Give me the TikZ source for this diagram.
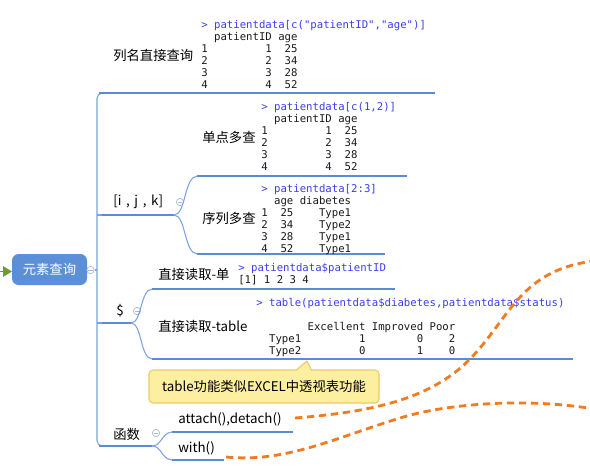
\documentclass[tikz,border=0pt]{standalone}
\usepackage{fontspec}
\newfontfamily\cjk{Noto Sans CJK SC}
\newfontfamily\codefont{DejaVu Sans Mono}
\usetikzlibrary{positioning}
\definecolor{rootblue}{HTML}{5B8FD8}
\definecolor{lineblue}{HTML}{5A8CD6}
\definecolor{curveblue}{HTML}{7AA3E0}
\definecolor{foldgray}{HTML}{A8B8D8}
\definecolor{cmdblue}{HTML}{3C3CF0}
\definecolor{notefill}{HTML}{FCEFA0}
\definecolor{notedraw}{HTML}{EFC86A}
\definecolor{relorange}{HTML}{F47A20}
\definecolor{markgreen}{HTML}{6F9A30}
\newcommand\cmdline[1]{\textcolor{cmdblue}{#1}}
\tikzset{
  topic/.style={anchor=west,inner sep=0pt,text=black,font=\cjk\fontsize{10}{12}\selectfont},
  codeblock/.style={anchor=base west,inner sep=0pt,text=black!90,font=\codefont\fontsize{8}{9}\selectfont},
  underline/.style={draw=lineblue,line width=1.8pt},
  branch/.style={draw=curveblue,line width=0.8pt},
  fold/.style={circle,draw=foldgray,fill=white,line width=0.5pt,minimum size=5.5pt,inner sep=0pt,
    path picture={\draw[foldgray,line width=0.5pt] ([xshift=1.1pt]path picture bounding box.west) -- ([xshift=-1.1pt]path picture bounding box.east);}},
  relation/.style={draw=relorange,line width=2.1pt,dash pattern=on 5.5pt off 3.5pt}
}
\begin{document}
\begin{tikzpicture}[x=0.75pt,y=-0.75pt]
    \useasboundingbox (0,0) rectangle (590,472);
    % root topic
    \node[fill=rootblue,rounded corners=5pt,minimum width=56.25pt,minimum height=23.25pt,inner sep=0pt,
      text=white,font=\cjk\fontsize{10}{12}\selectfont] (root) at (49.5,269.5) {元素查询};
    \fill[markgreen] (3,266) -- (12,271.5) -- (3,277) -- cycle;
    \draw[markgreen,line width=1pt] (0,271.5) -- (4,271.5);
    \node[fold] (f0) at (90.5,270) {};
    \coordinate (sp) at (97,270);
    \draw[branch] (f0) -- (sp);
    \draw[branch,rounded corners=4pt] (105,93) -- (97,93) -- (97,446) -- (105,446);

    % level one topics
    \node[topic] (t1) at (113,55) {列名直接查询};
    \node[topic] (t2) at (113,202) {[i\hspace{3.5pt},\hspace{3.5pt}j\hspace{3.5pt},\hspace{3.5pt}k]};
    \node[topic] (t3) at (116,311) {\$};
    \node[topic] (t4) at (113,434) {函数};
    \node[fold] (f2) at (180,202) {};
    \node[fold] (f3) at (137,311) {};
    \node[fold] (f4) at (156,433) {};

    \coordinate (u1a) at (99,93);  \coordinate (u1b) at (435,93);
    \coordinate (u2a) at (97,215); \coordinate (u2b) at (174,215);
    \coordinate (u3a) at (97,323); \coordinate (u3b) at (131,323);
    \coordinate (u4a) at (99,446); \coordinate (u4b) at (152,446);
    \draw[underline] (u1a) -- (u1b);
    \draw[branch] (u2a) -- (u2b);
    \draw[underline] (102,215) -- (u2b);
    \draw[branch] (u3a) -- (u3b);
    \draw[underline] (102,323) -- (u3b);
    \draw[underline] (u4a) -- (u4b);

    % level two topics
    \node[topic] (t21) at (202,137) {单点多查};
    \node[topic] (t22) at (202,218) {序列多查};
    \node[topic] (t31) at (158,274) {直接读取-单};
    \node[topic] (t32) at (158,326) {直接读取-table};
    \node[topic] (t41) at (178,419) {attach(),detach()};
    \node[topic] (t42) at (178,448) {with()};

    \coordinate (u21a) at (197,176); \coordinate (u21b) at (407,176);
    \coordinate (u22a) at (197,254); \coordinate (u22b) at (385,254);
    \coordinate (u31a) at (152,289); \coordinate (u31b) at (395,289);
    \coordinate (u32a) at (152,359); \coordinate (u32b) at (573,359);
    \coordinate (u41a) at (172,432); \coordinate (u41b) at (293,432);
    \coordinate (u42a) at (172,460); \coordinate (u42b) at (224,460);
    \draw[branch] (u2b) .. controls (186,215) and (184,177) .. (u21a);
    \draw[branch] (u2b) .. controls (186,215) and (184,253) .. (u22a);
    \draw[branch] (u3b) .. controls (142,323) and (140,290) .. (u31a);
    \draw[branch] (u3b) .. controls (142,323) and (140,358) .. (u32a);
    \draw[branch] (u4b) .. controls (162,446) and (161,433) .. (u41a);
    \draw[branch] (u4b) .. controls (162,446) and (161,459) .. (u42a);
    \foreach \a/\b in {u21a/u21b,u22a/u22b,u31a/u31b,u32a/u32b,u41a/u41b,u42a/u42b}
      \draw[underline] (\a) -- (\b);

    % code images
    \node[codeblock] (c1) at (201,28.5) {\begin{tabular}[t]{@{}l@{}}
      \cmdline{> patientdata[c("patientID","age")]}\\
      ~~patientID~age\\
      1~~~~~~~~~1~~25\\
      2~~~~~~~~~2~~34\\
      3~~~~~~~~~3~~28\\
      4~~~~~~~~~4~~52
    \end{tabular}};
    \node[codeblock] (c21) at (261,110.5) {\begin{tabular}[t]{@{}l@{}}
      \cmdline{> patientdata[c(1,2)]}\\
      ~~patientID~age\\
      1~~~~~~~~~1~~25\\
      2~~~~~~~~~2~~34\\
      3~~~~~~~~~3~~28\\
      4~~~~~~~~~4~~52
    \end{tabular}};
    \node[codeblock] (c22) at (261,192.5) {\begin{tabular}[t]{@{}l@{}}
      \cmdline{> patientdata[2:3]}\\
      ~~age~diabetes\\
      1~~25~~~~Type1\\
      2~~34~~~~Type2\\
      3~~28~~~~Type1\\
      4~~52~~~~Type1
    \end{tabular}};
    \node[codeblock] (c31) at (238,271.5) {\begin{tabular}[t]{@{}l@{}}
      \cmdline{> patientdata\$patientID}\\
      {[}1{]}~1~2~3~4
    \end{tabular}};
    \node[codeblock] (c32) at (256,306.5) {\begin{tabular}[t]{@{}l@{}}
      \cmdline{> table(patientdata\$diabetes,patientdata\$status)}\\
      ~\\
      ~~~~~~~~Excellent~Improved~Poor\\
      ~~Type1~~~~~~~~~1~~~~~~~~0~~~~2\\
      ~~Type2~~~~~~~~~0~~~~~~~~1~~~~0
    \end{tabular}};

    % note
    \node[fill=notefill,draw=notedraw,line width=0.8pt,rounded corners=3pt,minimum width=172.5pt,
      minimum height=24.75pt,inner sep=0pt,text=black,font=\cjk\fontsize{10}{12}\selectfont]
      (n1) at (264,386.5) {table功能类似EXCEL中透视表功能};
    \fill[notefill] (295.5,371.3) -- (307,361) -- (311.5,371.3) -- cycle;
    \draw[notedraw,line width=0.8pt,line join=round] (296,370.3) -- (307,361) -- (311.5,370.3);

    % relationships
    \coordinate (r1a) at (295,418); \coordinate (r1m) at (470,359); \coordinate (r1b) at (594,261);
    \coordinate (r2a) at (226,457); \coordinate (r2m) at (400,418); \coordinate (r2b) at (594,409);
    \draw[relation] (r1a) .. controls (370,412) and (430,400) .. (r1m)
      .. controls (510,318) and (520,270) .. (r1b);
    \draw[relation] (r2a) .. controls (285,463) and (335,438) .. (r2m)
      .. controls (450,402.6) and (530,398) .. (r2b);
\end{tikzpicture}
\end{document}
